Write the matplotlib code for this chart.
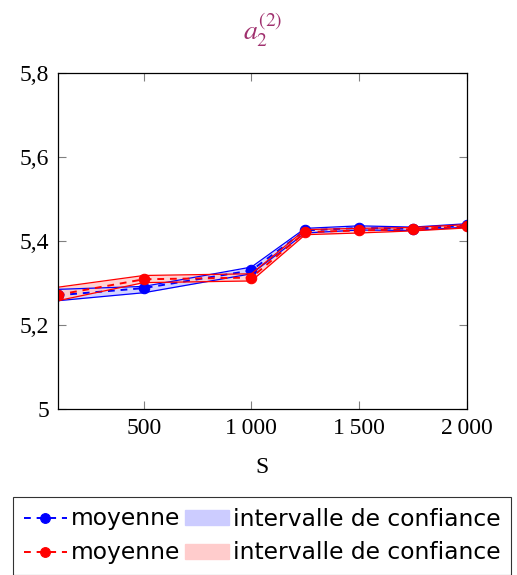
import numpy as np
import matplotlib.pyplot as plt
from matplotlib.patches import Patch
from matplotlib.lines import Line2D

plt.rcParams.update({'font.family': 'Liberation Serif', 'mathtext.fontset': 'stix'})

# sample sizes
S = [100, 500, 1000, 1250, 1500, 1750, 2000]

# first series (blue)
blue_mean = [5.271, 5.288, 5.330, 5.425, 5.431, 5.429, 5.437]
blue_low = [5.258, 5.277, 5.322, 5.419, 5.426, 5.425, 5.433]
blue_high = [5.285, 5.292, 5.338, 5.430, 5.436, 5.433, 5.441]

# second series (red)
red_mean = [5.272, 5.309, 5.313, 5.421, 5.425, 5.428, 5.435]
red_low = [5.258, 5.301, 5.305, 5.415, 5.419, 5.424, 5.431]
red_high = [5.290, 5.318, 5.322, 5.427, 5.430, 5.432, 5.439]

yticks = [5, 5.2, 5.4, 5.6, 5.8]
ytick_labels = ['5', '5,2', '5,4', '5,6', '5,8']
xticks = [500, 1000, 1500, 2000]
xtick_labels = ['500', '1\u2009000', '1\u2009500', '2\u2009000']

fig = plt.figure(figsize=(5.17, 5.75), dpi=100)
ax = fig.add_axes([0.1114, 0.2882, 0.7913, 0.5854])

dash = (0, (3.5, 3))
for mean, low, high, col, fill in [(blue_mean, blue_low, blue_high, 'blue', '#ccccff'),
                                    (red_mean, red_low, red_high, 'red', '#ffcccc')]:
    ax.fill_between(S, low, high, color=fill, alpha=0.85, lw=0)
    ax.plot(S, low, color=col, lw=0.9)
    ax.plot(S, high, color=col, lw=0.9)
    ax.plot(S, mean, color=col, lw=1.4, ls=dash, marker='o', markersize=7.5, markeredgewidth=0.8)

ax.set_xlim(100, 2000)
ax.set_ylim(5, 5.8)
ax.set_xticks(xticks)
ax.set_xticklabels(xtick_labels)
ax.set_yticks(yticks)
ax.set_yticklabels(ytick_labels)
ax.tick_params(direction='in', length=6, color='0.5', labelsize=17, top=True, right=True, pad=6)
for sp in ax.spines.values():
    sp.set_linewidth(0.9)
ax.set_xlabel('S', fontsize=17, labelpad=13)
ax.set_title(r'$a_2^{(2)}$', color='#a0306e', fontsize=20, pad=24)

handles = [Line2D([], [], color='blue', ls=dash, lw=1.4, marker='o', markersize=7, markeredgewidth=0.8),
           Line2D([], [], color='red', ls=dash, lw=1.4, marker='o', markersize=7, markeredgewidth=0.8),
           Patch(color='#ccccff'), Patch(color='#ffcccc')]
labels = ['moyenne', 'moyenne', 'intervalle de confiance', 'intervalle de confiance']
leg = fig.legend(handles, labels, ncol=2, loc='upper left', bbox_to_anchor=(13 / 517, 1 - 497 / 575),
                 prop={'family': 'DejaVu Sans', 'size': 16.8}, frameon=True, fancybox=False,
                 edgecolor='black', columnspacing=0.2, handletextpad=0.2, handlelength=1.85,
                 handleheight=0.6, borderpad=0.45, labelspacing=0.47, borderaxespad=0)
leg.get_frame().set_linewidth(0.8)

fig.savefig('out.png', dpi=100)
